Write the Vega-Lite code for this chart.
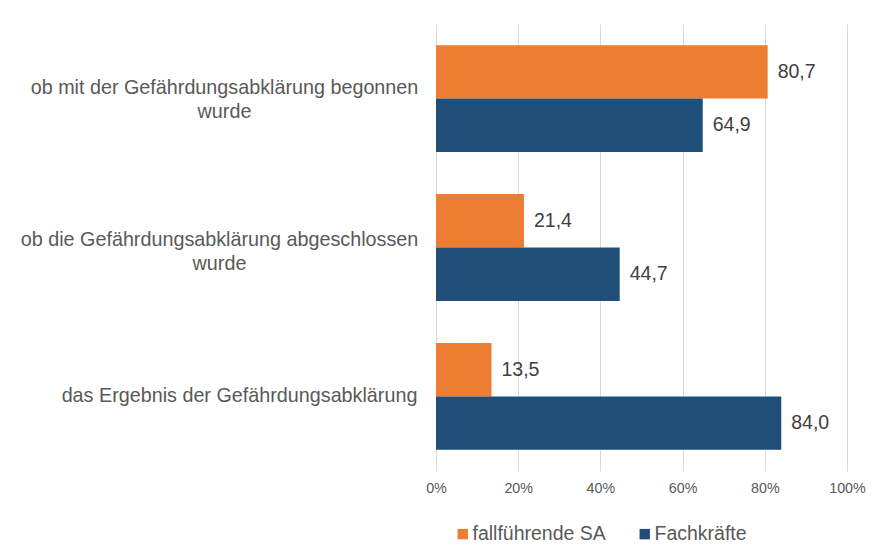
{
  "$schema": "https://vega.github.io/schema/vega-lite/v6.json",
  "autosize": {"type": "none"},
  "padding": {"left": 436, "top": 24, "right": 26, "bottom": 76},
  "width": 411,
  "height": 447,
  "background": "white",
  "config": {
    "font": "Liberation Sans",
    "view": {"stroke": null},
    "locale": {"number": {"decimal": ",", "thousands": ".", "grouping": [3], "currency": ["", " €"]}}
  },
  "data": {
    "values": [
      {"kategorie": "ob mit der Gefährdungsabklärung begonnen\nwurde", "gruppe": "fallführende SA", "wert": 80.7},
      {"kategorie": "ob mit der Gefährdungsabklärung begonnen\nwurde", "gruppe": "Fachkräfte", "wert": 64.9},
      {"kategorie": "ob die Gefährdungsabklärung abgeschlossen\nwurde", "gruppe": "fallführende SA", "wert": 21.4},
      {"kategorie": "ob die Gefährdungsabklärung abgeschlossen\nwurde", "gruppe": "Fachkräfte", "wert": 44.7},
      {"kategorie": "das Ergebnis der Gefährdungsabklärung", "gruppe": "fallführende SA", "wert": 13.5},
      {"kategorie": "das Ergebnis der Gefährdungsabklärung", "gruppe": "Fachkräfte", "wert": 84.0}
    ]
  },
  "encoding": {
    "y": {
      "field": "kategorie",
      "type": "nominal",
      "sort": null,
      "scale": {"paddingInner": 0.283, "paddingOuter": 0.142},
      "axis": {
        "title": null,
        "domain": false,
        "ticks": false,
        "tickSize": 0,
        "labelPadding": {
          "condition": [
            {"test": "indexof(datum.value, 'begonnen') >= 0", "value": 212},
            {"test": "indexof(datum.value, 'abgeschlossen') >= 0", "value": 217}
          ],
          "value": 197
        },
        "labelOffset": {
          "condition": [
            {"test": "indexof(datum.value, 'begonnen') >= 0", "value": -11},
            {"test": "indexof(datum.value, 'abgeschlossen') >= 0", "value": -8}
          ],
          "value": 0
        },
        "labelAlign": "center",
        "labelBaseline": "middle",
        "labelFontSize": 19.75,
        "labelColor": "#595959",
        "labelLineHeight": 24,
        "labelLimit": 500,
        "labelExpr": "split(datum.value, '\\n')"
      }
    },
    "yOffset": {
      "field": "gruppe",
      "type": "nominal",
      "sort": ["fallführende SA", "Fachkräfte"],
      "scale": {"paddingInner": 0, "paddingOuter": 0}
    },
    "x": {
      "field": "wert",
      "type": "quantitative",
      "scale": {"domain": [0, 100], "nice": false},
      "axis": {
        "title": null,
        "values": [0, 20, 40, 60, 80, 100],
        "labelExpr": "datum.value + '%'",
        "labelFlush": false,
        "labelOverlap": false,
        "domain": false,
        "ticks": false,
        "tickSize": 0,
        "labelPadding": 10,
        "labelFontSize": 14.3,
        "labelColor": "#595959",
        "gridColor": "#d9d9d9",
        "gridWidth": 1
      }
    }
  },
  "layer": [
    {
      "mark": {"type": "bar"},
      "encoding": {
        "color": {
          "field": "gruppe",
          "type": "nominal",
          "sort": ["fallführende SA", "Fachkräfte"],
          "scale": {"domain": ["fallführende SA", "Fachkräfte"], "range": ["#ED7D31", "#1F4E79"]},
          "legend": {
            "title": null,
            "orient": "none",
            "direction": "horizontal",
            "legendX": 17,
            "legendY": 500,
            "padding": 0,
            "symbolType": "square",
            "symbolSize": 108,
            "symbolStrokeWidth": 0,
            "symbolOpacity": 1,
            "labelFontSize": 19.5,
            "labelColor": "#595959",
            "labelOffset": 0,
            "columnPadding": 29,
            "labelLimit": 300
          }
        }
      }
    },
    {
      "mark": {"type": "text", "align": "left", "baseline": "middle", "dx": 10, "fontSize": 19.5, "color": "#404040"},
      "encoding": {
        "text": {"field": "wert", "type": "quantitative", "format": ".1f"}
      }
    }
  ]
}
